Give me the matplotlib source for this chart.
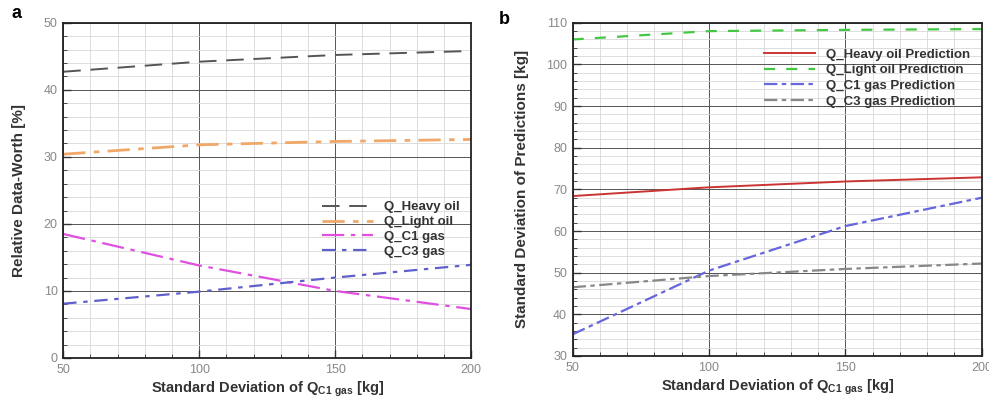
import matplotlib
matplotlib.use("Agg")
import matplotlib.pyplot as plt
from matplotlib.ticker import MultipleLocator

plt.rcParams['font.family'] = ['Liberation Sans', 'DejaVu Sans']

x = [50, 100, 150, 200]

# Panel a: relative data-worth [%]
a_heavy = [42.7, 44.2, 45.2, 45.8]
a_light = [30.4, 31.8, 32.3, 32.6]
a_c1 = [18.5, 13.8, 10.0, 7.3]
a_c3 = [8.1, 9.9, 12.0, 13.9]

# Panel b: std of predictions [kg]
b_heavy = [68.4, 70.5, 71.9, 72.9]
b_light = [106.0, 108.0, 108.3, 108.5]
b_c1 = [35.2, 50.5, 61.2, 68.0]
b_c3 = [46.5, 49.2, 50.9, 52.2]

a_labels = ["Q_Heavy oil", "Q_Light oil", "Q_C1 gas", "Q_C3 gas"]
b_labels = ["Q_Heavy oil Prediction", "Q_Light oil Prediction",
            "Q_C1 gas Prediction", "Q_C3 gas Prediction"]

fig = plt.figure(figsize=(9.89, 4.0), dpi=100)
axa = fig.add_axes([0.064, 0.105, 0.4125, 0.838])
axb = fig.add_axes([0.579, 0.11, 0.4136, 0.833])

xlabel = r"Standard Deviation of Q$_{\mathregular{C1\ gas}}$ [kg]"

def style(ax, ylo, yhi):
    ax.set_xlim(50, 200)
    ax.set_ylim(ylo, yhi)
    ax.xaxis.set_major_locator(MultipleLocator(50))
    ax.xaxis.set_minor_locator(MultipleLocator(10))
    ax.yaxis.set_major_locator(MultipleLocator(10))
    ax.yaxis.set_minor_locator(MultipleLocator(2))
    ax.grid(which='major', color='#555555', lw=0.7)
    ax.grid(which='minor', color='#d8d8d8', lw=0.6)
    ax.set_axisbelow(True)
    ax.tick_params(which='both', direction='in', labelsize=9, labelcolor='#888888',
                   color='#333333', pad=4)
    ax.tick_params(which='major', length=6, width=1.0)
    ax.tick_params(which='minor', length=3)
    for s in ax.spines.values():
        s.set_linewidth(1.3)
        s.set_color('#222222')
    ax.set_xlabel(xlabel, fontsize=10.5, fontweight='bold', color='#333333', labelpad=3)

style(axa, 0, 50)
style(axb, 30, 110)

axa.plot(x, a_heavy, color='#555555', lw=1.4, ls=(0, (9, 5)), label=a_labels[0])
axa.plot(x, a_light, color='#f0a868', lw=2.0, ls=(0, (8, 3, 2, 3)), label=a_labels[1])
axa.plot(x, a_c1, color='#e050e0', lw=1.6, ls=(0, (10, 3, 2, 3)), label=a_labels[2])
axa.plot(x, a_c3, color='#6060cc', lw=1.6, ls=(0, (6, 3, 2, 3)), label=a_labels[3])
axa.set_ylabel("Relative Data-Worth [%]", fontsize=11, fontweight='bold',
               color='#333333', labelpad=13)

axb.plot(x, b_heavy, color='#cc3333', lw=1.4, ls='-', label=b_labels[0])
axb.plot(x, b_light, color='#44c844', lw=1.6, ls=(0, (5, 5)), label=b_labels[1])
axb.plot(x, b_c1, color='#6666dd', lw=1.6, ls=(0, (6, 2, 2, 2)), label=b_labels[2])
axb.plot(x, b_c3, color='#888888', lw=1.6, ls=(0, (6, 2, 2, 2)), label=b_labels[3])
axb.set_ylabel("Standard Deviation of Predictions [kg]", fontsize=11, fontweight='bold',
               color='#333333', labelpad=12)

leg_a = axa.legend(loc='lower right', bbox_to_anchor=(1.0, 0.263), frameon=False,
                   prop={'size': 9.5, 'weight': 'bold'}, handlelength=3.9,
                   labelspacing=0.2, handletextpad=0.8)
leg_b = axb.legend(loc='upper right', bbox_to_anchor=(1.0, 0.958), frameon=False,
                   prop={'size': 9.5, 'weight': 'bold'}, handlelength=3.9,
                   labelspacing=0.25, handletextpad=0.8)
for leg in (leg_a, leg_b):
    for t in leg.get_texts():
        t.set_color('#333333')

fig.text(0.012, 0.955, "a", fontsize=13, fontweight='bold')
fig.text(0.504, 0.94, "b", fontsize=13, fontweight='bold')

fig.savefig("out.png", dpi=100)
